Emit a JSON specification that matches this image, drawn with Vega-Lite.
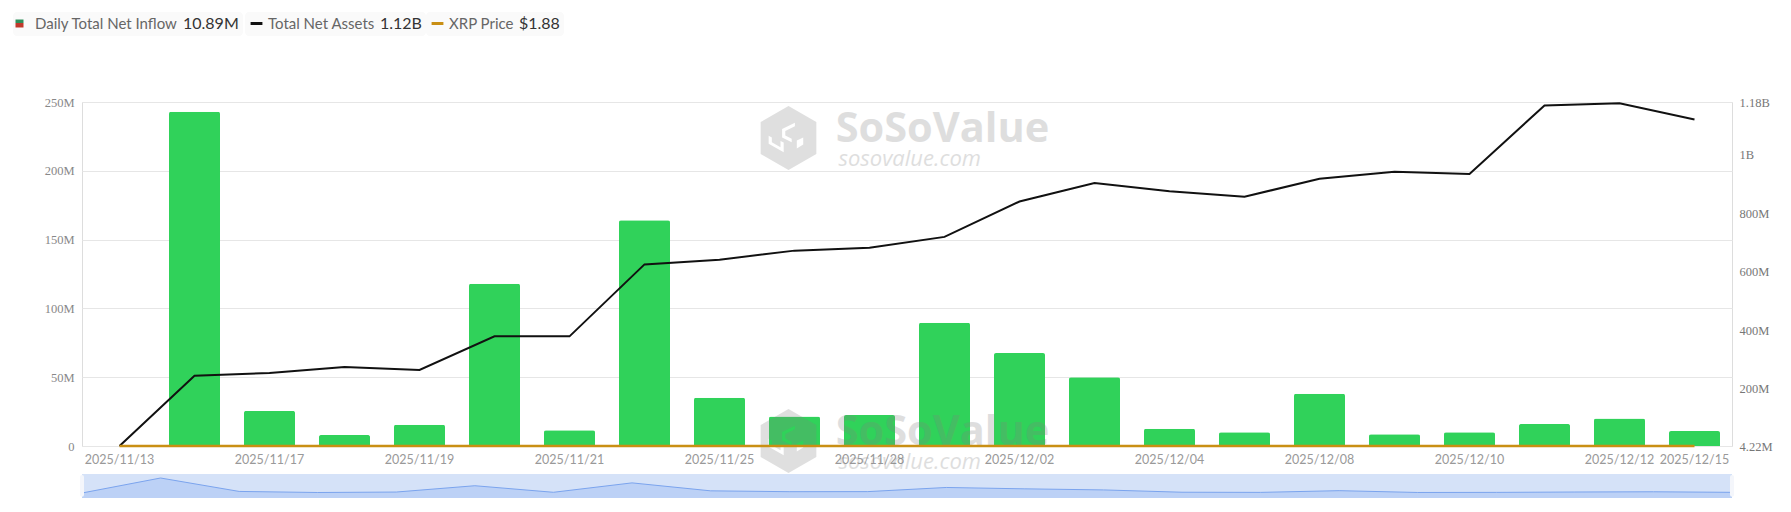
{
  "$schema": "https://vega.github.io/schema/vega-lite/v6.json",
  "description": "XRP spot ETF daily net inflow, total net assets and price",
  "background": "#ffffff",
  "padding": {"left": 12, "top": 11, "right": 0, "bottom": 0},
  "bounds": "flush",
  "spacing": 28,
  "datasets": {
    "etf": [
      {"date": "2025/11/13", "inflow": 0, "assets": 4220000, "price": 1.88},
      {"date": "2025/11/14", "inflow": 243000000, "assets": 244000000, "price": 1.88},
      {"date": "2025/11/17", "inflow": 25500000, "assets": 254000000, "price": 1.88},
      {"date": "2025/11/18", "inflow": 8000000, "assets": 274000000, "price": 1.88},
      {"date": "2025/11/19", "inflow": 15500000, "assets": 264000000, "price": 1.88},
      {"date": "2025/11/20", "inflow": 118000000, "assets": 379000000, "price": 1.88},
      {"date": "2025/11/21", "inflow": 11500000, "assets": 379000000, "price": 1.88},
      {"date": "2025/11/24", "inflow": 164000000, "assets": 625000000, "price": 1.88},
      {"date": "2025/11/25", "inflow": 35000000, "assets": 641000000, "price": 1.88},
      {"date": "2025/11/26", "inflow": 21500000, "assets": 672000000, "price": 1.88},
      {"date": "2025/11/28", "inflow": 22500000, "assets": 682000000, "price": 1.88},
      {"date": "2025/12/01", "inflow": 89500000, "assets": 719000000, "price": 1.88},
      {"date": "2025/12/02", "inflow": 67500000, "assets": 840000000, "price": 1.88},
      {"date": "2025/12/03", "inflow": 50000000, "assets": 903000000, "price": 1.88},
      {"date": "2025/12/04", "inflow": 12500000, "assets": 875000000, "price": 1.88},
      {"date": "2025/12/05", "inflow": 10000000, "assets": 856000000, "price": 1.88},
      {"date": "2025/12/08", "inflow": 38000000, "assets": 918000000, "price": 1.88},
      {"date": "2025/12/09", "inflow": 8500000, "assets": 942000000, "price": 1.88},
      {"date": "2025/12/10", "inflow": 10000000, "assets": 934000000, "price": 1.88},
      {"date": "2025/12/11", "inflow": 16000000, "assets": 1168000000, "price": 1.88},
      {"date": "2025/12/12", "inflow": 20000000, "assets": 1176000000, "price": 1.88},
      {"date": "2025/12/15", "inflow": 10890000, "assets": 1120000000, "price": 1.88}
    ],
    "watermark": [
      {"date": "2025/12/01", "level": 221000000, "brand": "SoSoValue", "site": "sosovalue.com", "sitelevel": 203500000, "logolevel": 223800000},
      {"date": "2025/12/01", "level": 700000, "brand": "SoSoValue", "site": "sosovalue.com", "sitelevel": -16700000, "logolevel": 3600000}
    ],
    "handles": [
      {"date": "2025/11/13"},
      {"date": "2025/12/15"}
    ]
  },
  "vconcat": [
    {
      "width": 1650,
      "height": 344,
      "data": {"name": "etf"},
      "encoding": {
        "x": {
          "field": "date",
          "type": "ordinal",
          "sort": null,
          "scale": {
            "type": "band",
            "paddingInner": 0.32,
            "paddingOuter": 0.16,
            "domain": ["2025/11/13", "2025/11/14", "2025/11/17", "2025/11/18", "2025/11/19", "2025/11/20", "2025/11/21", "2025/11/24", "2025/11/25", "2025/11/26", "2025/11/28", "2025/12/01", "2025/12/02", "2025/12/03", "2025/12/04", "2025/12/05", "2025/12/08", "2025/12/09", "2025/12/10", "2025/12/11", "2025/12/12", "2025/12/15"]
          },
          "axis": {
            "title": null,
            "values": ["2025/11/13", "2025/11/17", "2025/11/19", "2025/11/21", "2025/11/25", "2025/11/28", "2025/12/02", "2025/12/04", "2025/12/08", "2025/12/10", "2025/12/12", "2025/12/15"],
            "labelAngle": 0,
            "labelOverlap": false,
            "labelFont": "Lato",
            "labelFontSize": 12.5,
            "labelColor": "#999999",
            "labelPadding": 7,
            "domain": false,
            "ticks": false,
            "grid": false
          }
        }
      },
      "layer": [
        {
          "mark": {"type": "bar", "cornerRadiusTopLeft": 2, "cornerRadiusTopRight": 2, "color": "#30d25a"},
          "encoding": {
            "y": {
              "field": "inflow",
              "type": "quantitative",
              "scale": {"domain": [0, 250000000]},
              "axis": {
                "title": null,
                "orient": "left",
                "values": [0, 50000000, 100000000, 150000000, 200000000, 250000000],
                "labelExpr": "datum.value === 0 ? '0' : datum.value / 1000000 + 'M'",
                "labelFont": "Liberation Serif",
                "labelFontSize": 12.5,
                "labelColor": "#888888",
                "labelPadding": 8,
                "domain": false,
                "ticks": false,
                "grid": true,
                "gridColor": "#e6e6e6"
              }
            }
          }
        },
        {
          "transform": [{"filter": "datum.inflow < 0"}],
          "mark": {
            "type": "point",
            "filled": true,
            "opacity": 1,
            "fill": {
              "gradient": "linear",
              "x1": 0,
              "y1": 0,
              "x2": 0,
              "y2": 1,
              "stops": [
                {"offset": 0, "color": "#2f8f5b"},
                {"offset": 0.5, "color": "#2f8f5b"},
                {"offset": 0.5, "color": "#c0392b"},
                {"offset": 1, "color": "#c0392b"}
              ]
            }
          },
          "encoding": {
            "y": {"field": "inflow", "type": "quantitative", "scale": {"domain": [0, 250000000]}, "axis": null},
            "shape": {
              "datum": "Daily Total Net Inflow",
              "scale": {"range": ["square"]},
              "legend": {
                "orient": "none",
                "legendX": -69,
                "legendY": -90,
                "title": "10.89M",
                "titleOrient": "right",
                "titleFont": "Lato",
                "titleFontSize": 16,
                "titleFontWeight": "normal",
                "titleColor": "#333333",
                "labelFont": "Lato",
                "labelFontSize": 15,
                "labelColor": "#666666",
                "labelOffset": 8,
                "symbolSize": 64,
                "symbolOffset": -5,
                "fillColor": "#fafafa",
                "cornerRadius": 4,
                "padding": 4
              }
            }
          }
        },
        {
          "data": {"name": "watermark"},
          "mark": {"type": "point", "filled": true, "opacity": 0.25, "color": "#808080", "size": 4096, "shape": "M0,-1 L0.87,-0.5 L0.87,0.5 L0,1 L-0.87,0.5 L-0.87,-0.5 Z M0.2,-0.48 L-0.2,-0.28 L-0.2,-0.02 L0.1,0.13 L0.1,0.02 L-0.1,-0.08 L-0.1,-0.22 L0.2,-0.37 Z M-0.62,-0.07 L-0.62,0.18 L-0.15,0.44 L-0.15,0.14 L-0.25,0.09 L-0.25,0.29 L-0.52,0.13 L-0.52,-0.02 Z M0.26,0.08 L0.26,0.33 L0.46,0.2 L0.46,-0.02 Z", "xOffset": -156},
          "encoding": {
            "y": {"field": "logolevel", "type": "quantitative", "scale": {"domain": [0, 250000000]}, "axis": null}
          }
        },
        {
          "data": {"name": "watermark"},
          "mark": {"type": "text", "font": "Open Sans", "fontWeight": "bold", "fontSize": 41.5, "opacity": 0.25, "color": "#808080", "align": "center", "baseline": "alphabetic", "dx": -2},
          "encoding": {
            "y": {"field": "level", "type": "quantitative", "scale": {"domain": [0, 250000000]}, "axis": null},
            "text": {"field": "brand"}
          }
        },
        {
          "data": {"name": "watermark"},
          "mark": {"type": "text", "font": "Open Sans", "fontStyle": "italic", "fontSize": 22, "opacity": 0.25, "color": "#808080", "align": "left", "baseline": "alphabetic", "dx": -106},
          "encoding": {
            "y": {"field": "sitelevel", "type": "quantitative", "scale": {"domain": [0, 250000000]}, "axis": null},
            "text": {"field": "site"}
          }
        },
        {
          "mark": {"type": "line", "strokeWidth": 2},
          "encoding": {
            "y": {
              "field": "assets",
              "type": "quantitative",
              "scale": {"domain": [4220000, 1180000000]},
              "axis": {
                "title": null,
                "orient": "right",
                "values": [4220000, 200000000, 400000000, 600000000, 800000000, 1000000000, 1180000000],
                "labelExpr": "datum.value >= 1000000000 ? format(datum.value / 1000000000, '.3~f') + 'B' : format(datum.value / 1000000, '.3~f') + 'M'",
                "labelFont": "Liberation Serif",
                "labelFontSize": 12.5,
                "labelColor": "#777777",
                "labelPadding": 7,
                "domain": false,
                "ticks": false,
                "grid": false
              }
            },
            "stroke": {
              "datum": "Total Net Assets",
              "scale": {"range": ["#111111"]},
              "legend": {
                "orient": "none",
                "legendX": 163,
                "legendY": -90,
                "title": "1.12B",
                "titleOrient": "right",
                "titleFont": "Lato",
                "titleFontSize": 16,
                "titleFontWeight": "normal",
                "titleColor": "#333333",
                "labelFont": "Lato",
                "labelFontSize": 15,
                "labelColor": "#666666",
                "labelOffset": 4,
                "symbolType": "stroke",
                "symbolStrokeWidth": 3,
                "symbolSize": 140,
                "fillColor": "#fafafa",
                "cornerRadius": 4,
                "padding": 4
              }
            }
          }
        },
        {
          "mark": {"type": "line", "strokeWidth": 2.5},
          "encoding": {
            "y": {
              "field": "price",
              "type": "quantitative",
              "scale": {"domain": [0, 250000000]},
              "axis": null
            },
            "stroke": {
              "datum": "XRP Price",
              "scale": {"range": ["#c98f14"]},
              "legend": {
                "orient": "none",
                "legendX": 344,
                "legendY": -90,
                "title": "$1.88",
                "titleOrient": "right",
                "titleFont": "Lato",
                "titleFontSize": 16,
                "titleFontWeight": "normal",
                "titleColor": "#333333",
                "labelFont": "Lato",
                "labelFontSize": 15,
                "labelColor": "#666666",
                "labelOffset": 4,
                "symbolType": "stroke",
                "symbolStrokeWidth": 3,
                "symbolSize": 140,
                "fillColor": "#fafafa",
                "cornerRadius": 4,
                "padding": 4
              }
            }
          }
        }
      ],
      "resolve": {"scale": {"y": "independent", "shape": "independent", "stroke": "independent"}, "legend": {"shape": "independent", "stroke": "independent"}}
    },
    {
      "width": 1650,
      "height": 24,
      "view": {"fill": "#d5e2f8", "stroke": null},
      "data": {"name": "etf"},
      "encoding": {
        "x": {
          "field": "date",
          "type": "ordinal",
          "sort": null,
          "scale": {
            "type": "point",
            "padding": 0,
            "domain": ["2025/11/13", "2025/11/14", "2025/11/17", "2025/11/18", "2025/11/19", "2025/11/20", "2025/11/21", "2025/11/24", "2025/11/25", "2025/11/26", "2025/11/28", "2025/12/01", "2025/12/02", "2025/12/03", "2025/12/04", "2025/12/05", "2025/12/08", "2025/12/09", "2025/12/10", "2025/12/11", "2025/12/12", "2025/12/15"]
          },
          "axis": null
        }
      },
      "layer": [
        {
          "mark": {"type": "area", "color": "#b1caf5", "line": {"color": "#7ba4ee", "strokeWidth": 1}},
          "encoding": {
            "y": {"field": "inflow", "type": "quantitative", "scale": {"domain": [-81000000, 308000000]}, "axis": null},
            "y2": {"datum": -81000000}
          }
        },
        {
          "data": {"name": "handles"},
          "mark": {"type": "rule", "color": "#f4f6fb", "strokeWidth": 4, "strokeCap": "round"},
          "encoding": {
            "y": {"datum": 260000000, "type": "quantitative", "scale": {"domain": [-81000000, 308000000]}},
            "y2": {"datum": -30000000}
          }
        }
      ]
    }
  ]
}
